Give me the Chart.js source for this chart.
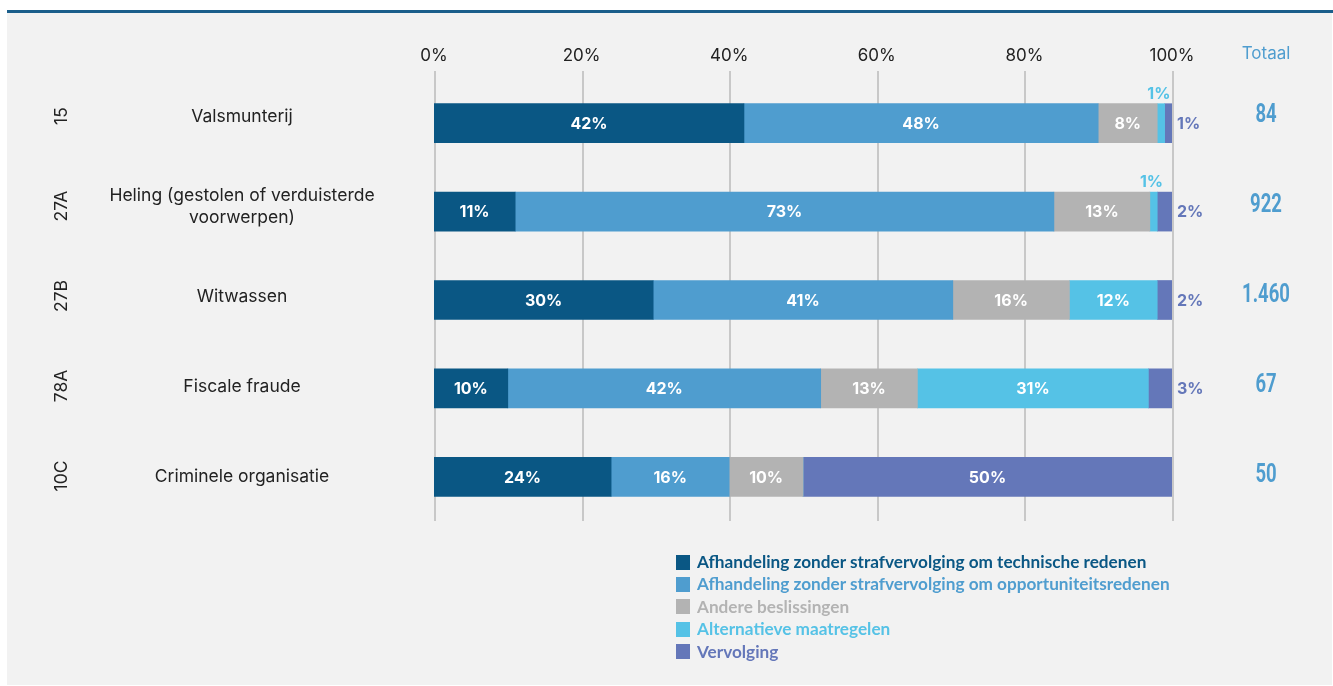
<!DOCTYPE html>
<html>
<head>
<meta charset="utf-8">
<script src="https://cdn.jsdelivr.net/npm/chart.js@4"></script>
<style>
  html, body { margin: 0; padding: 0; background: #ffffff; }
  #wrap { position: relative; width: 1333px; height: 686px; overflow: hidden; }
  #topline { position: absolute; left: 7px; top: 10px; width: 1326px; height: 3px; background: #1a5e8b; }
  #panel { position: absolute; left: 7px; top: 13px; width: 1325px; height: 672px; background: #f2f2f2; }
  #chart { position: absolute; left: 0; top: 0; }
  #legend { position: absolute; left: 676px; top: 551px; font-family: Lato, "Open Sans", sans-serif; font-weight: 700; font-size: 17.2px; }
  #legend .item { height: 22.4px; line-height: 22.4px; white-space: nowrap; display: flex; align-items: center; }
  #legend .sw { width: 14px; height: 15px; margin-right: 7px; flex: none; }
</style>
</head>
<body>
<div id="wrap">
  <div id="topline"></div>
  <div id="panel"></div>
  <canvas id="chart" width="1333" height="686"></canvas>
  <div id="legend"></div>
</div>
<script>
// ---- data ----
const categories = ['Valsmunterij', ['Heling (gestolen of verduisterde', 'voorwerpen)'], 'Witwassen', 'Fiscale fraude', 'Criminele organisatie'];
const codes = ['15', '27A', '27B', '78A', '10C'];
const totals = [84, 922, 1460, 67, 50];
const totalHeader = 'Totaal';
const seriesNames = [
  'Afhandeling zonder strafvervolging om technische redenen',
  'Afhandeling zonder strafvervolging om opportuniteitsredenen',
  'Andere beslissingen',
  'Alternatieve maatregelen',
  'Vervolging'
];
const technisch     = [42, 11, 29.7, 10.0, 24];
const opportuniteit = [48, 73, 40.6, 42.4, 16];
const andere        = [8, 13, 15.8, 13.1, 10];
const alternatief   = [1, 1, 11.9, 31.3, 0];
const vervolging    = [1, 2, 2.0, 3.2, 50];
const xTicks = [0, 20, 40, 60, 80, 100];
const seriesColors = ['#0a5784', '#4f9dcf', '#b3b3b3', '#55c2e6', '#6477b9'];
const seriesValues = [technisch, opportuniteit, andere, alternatief, vervolging];

function fmtThousands(n) {
  return String(n).replace(/\B(?=(\d{3})+(?!\d))/g, '.');
}

// ---- legend (HTML, built from arrays) ----
const legendEl = document.getElementById('legend');
seriesNames.forEach((name, i) => {
  const item = document.createElement('div');
  item.className = 'item';
  item.style.color = seriesColors[i];
  const sw = document.createElement('span');
  sw.className = 'sw';
  sw.style.background = seriesColors[i];
  item.appendChild(sw);
  item.appendChild(document.createTextNode(name));
  legendEl.appendChild(item);
});

const TEXT_FONT = 'Inter, Roboto, sans-serif';

// grid lines extending slightly above the chart area
const gridPlugin = {
  id: 'customGrid',
  beforeDatasetsDraw(chart) {
    const { ctx, chartArea, scales } = chart;
    const x = scales.x;
    ctx.save();
    ctx.strokeStyle = '#c8c8c8';
    ctx.lineWidth = 2;
    x.ticks.forEach(t => {
      const px = Math.round(x.getPixelForValue(t.value));
      ctx.beginPath();
      ctx.moveTo(px + 1, chartArea.top - 8);
      ctx.lineTo(px + 1, chartArea.bottom);
      ctx.stroke();
    });
    ctx.restore();
  }
};

// category labels, codes and totals
const sideLabels = {
  id: 'sideLabels',
  afterDraw(chart) {
    const { ctx, chartArea } = chart;
    const n = categories.length;
    const top = chartArea.top - 8, bottom = chartArea.bottom;
    const step = (bottom - top) / n;
    ctx.save();
    // header
    ctx.font = '400 17px ' + TEXT_FONT;
    ctx.fillStyle = '#4f9dcf';
    ctx.textAlign = 'center';
    ctx.textBaseline = 'middle';
    ctx.fillText(totalHeader, 1266, 54);
    for (let i = 0; i < n; i++) {
      const yc = top + step * (i + 0.5);
      // names
      ctx.font = '400 17.5px ' + TEXT_FONT;
      ctx.fillStyle = '#222222';
      ctx.textAlign = 'center';
      ctx.textBaseline = 'middle';
      const lab = categories[i];
      if (Array.isArray(lab)) {
        const lh = 22;
        lab.forEach((l, k) => ctx.fillText(l, 242, yc + 1 + (k - (lab.length - 1) / 2) * lh));
      } else {
        ctx.fillText(lab, 242, yc + 1);
      }
      // codes rotated
      ctx.save();
      ctx.translate(62, yc);
      ctx.rotate(-Math.PI / 2);
      ctx.fillText(codes[i], 0, 0);
      ctx.restore();
      // totals (condensed bold)
      ctx.save();
      ctx.translate(1266, yc);
      ctx.scale(0.74, 1);
      ctx.font = '700 25px Roboto, "DejaVu Sans", sans-serif';
      ctx.fillStyle = '#4f9dcf';
      ctx.fillText(fmtThousands(totals[i]), 0, 0);
      ctx.restore();
    }
    ctx.restore();
  }
};

// value labels
const valueLabels = {
  id: 'valueLabels',
  afterDatasetsDraw(chart) {
    const { ctx } = chart;
    ctx.save();
    ctx.font = '700 16px ' + TEXT_FONT;
    ctx.textBaseline = 'middle';
    chart.data.datasets.forEach((ds, di) => {
      const meta = chart.getDatasetMeta(di);
      meta.data.forEach((el, i) => {
        const v = ds.data[i];
        if (!v) return;
        const txt = Math.round(v) + '%';
        const left = Math.min(el.x, el.base), right = Math.max(el.x, el.base);
        if (v >= 5) {
          ctx.fillStyle = '#ffffff';
          ctx.textAlign = 'center';
          ctx.fillText(txt, (left + right) / 2, el.y + 1);
        } else if (di === seriesValues.length - 1) {
          ctx.fillStyle = seriesColors[di];
          ctx.textAlign = 'left';
          ctx.fillText(txt, right + 5, el.y + 1);
        } else {
          ctx.fillStyle = seriesColors[di];
          ctx.textAlign = 'center';
          ctx.fillText(txt, (left + right) / 2 - 2, el.y - el.height / 2 - 10);
        }
      });
    });
    ctx.restore();
  }
};

new Chart(document.getElementById('chart'), {
  type: 'bar',
  data: {
    labels: categories,
    datasets: seriesNames.map((name, i) => ({
      label: name,
      data: seriesValues[i],
      backgroundColor: seriesColors[i],
      borderWidth: 0,
      barThickness: 39
    }))
  },
  options: {
    indexAxis: 'y',
    responsive: false,
    animation: false,
    devicePixelRatio: 1,
    layout: { padding: { left: 434, right: 161, top: 34, bottom: 165 } },
    plugins: { legend: { display: false }, tooltip: { enabled: false } },
    scales: {
      x: {
        position: 'top',
        stacked: true,
        min: 0, max: 100,
        afterFit(scale) { scale.height = 45; },
        afterBuildTicks(scale) { scale.ticks = xTicks.map(v => ({ value: v })); },
        grid: { display: false, drawTicks: false },
        border: { display: false },
        ticks: {
          padding: 13,
          color: '#222222',
          font: { family: TEXT_FONT, size: 17, weight: '400' },
          maxRotation: 0,
          callback: v => v + '%'
        }
      },
      y: {
        stacked: true,
        display: false
      }
    }
  },
  plugins: [gridPlugin, valueLabels, sideLabels]
});
</script>
</body>
</html>
